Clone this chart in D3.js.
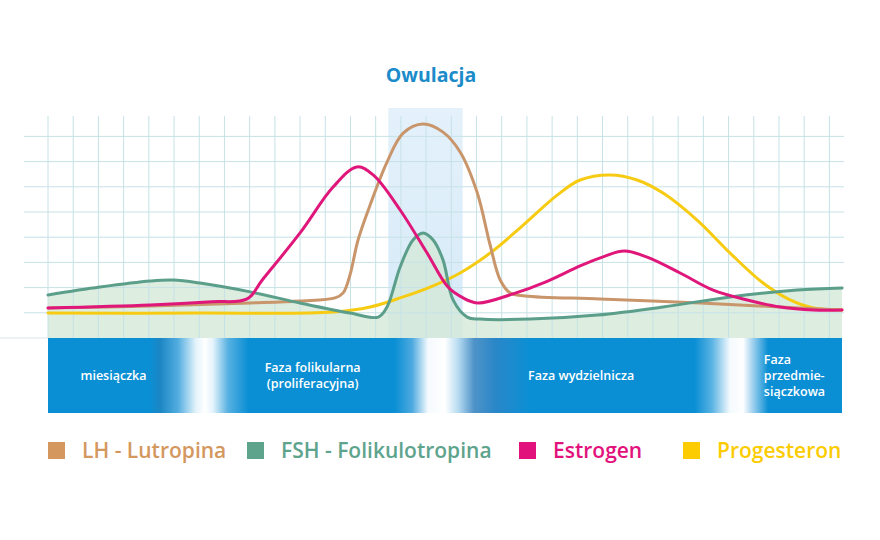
<!DOCTYPE html>
<html>
<head>
<meta charset="utf-8">
<script src="https://cdn.jsdelivr.net/npm/d3@7"></script>
<style>
  body { margin: 0; background: #fff; }
  svg { display: block; font-family: "Open Sans", sans-serif; }
</style>
</head>
<body>
<div id="myPlot"></div>
<script>
// Curves: x in grid columns, y in grid rows above the band
const lhX  = [0, 4.05, 8.02, 10, 11.39, 11.71, 11.98, 12.3, 12.78, 13.45, 14.09, 14.88, 15.67, 16.35, 17.02, 17.54, 17.94, 18.33, 18.93, 21.9, 25.87, 29.05, 31.5];
const lhY  = [1.19, 1.27, 1.39, 1.47, 1.59, 1.79, 2.5, 3.89, 5.28, 6.98, 8.13, 8.49, 8.17, 7.38, 5.79, 3.69, 2.3, 1.79, 1.67, 1.55, 1.39, 1.23, 1.11];
const fshX = [0, 2.06, 4.05, 4.96, 6.03, 8.02, 10, 11.98, 13.1, 13.45, 13.97, 14.48, 14.88, 15.28, 15.67, 16.07, 16.63, 17.14, 19.13, 21.79, 24.4, 27.06, 29.72, 31.5];
const fshY = [1.71, 2.02, 2.26, 2.3, 2.18, 1.83, 1.39, 0.99, 0.83, 1.23, 2.82, 3.89, 4.17, 3.89, 3.1, 1.51, 0.83, 0.75, 0.75, 0.91, 1.23, 1.63, 1.9, 1.98];
const estX = [0, 4.05, 6.5, 7.9, 8.5, 10, 11.31, 12.26, 12.9, 13.97, 15.04, 15.87, 16.47, 17.06, 18.45, 19.73, 21.11, 22.1, 22.86, 23.77, 25.08, 26.39, 27.74, 29.05, 30.36, 31.5];
const estY = [1.19, 1.31, 1.44, 1.55, 2.3, 4.17, 5.99, 6.79, 6.47, 5.08, 3.37, 2.02, 1.59, 1.39, 1.75, 2.22, 2.86, 3.25, 3.45, 3.21, 2.58, 1.9, 1.51, 1.23, 1.11, 1.11];
const proX = [0, 6.03, 11.31, 12.78, 13.97, 15.16, 16.35, 17.54, 18.73, 20.2, 21.11, 22.3, 23.37, 24.4, 25.75, 27.06, 28.37, 29.44, 30.36, 31.5];
const proY = [0.99, 0.99, 1.03, 1.23, 1.59, 2.02, 2.58, 3.37, 4.37, 5.67, 6.27, 6.47, 6.27, 5.75, 4.68, 3.37, 2.18, 1.51, 1.19, 1.11];

const seriesNames  = ["LH - Lutropina", "FSH - Folikulotropina", "Estrogen", "Progesteron"];
const seriesColors = ["#c9956b", "#5b9e8a", "#e0177b", "#f6cb12"];
const legendColors = ["#d4985f", "#5ea48d", "#e2127c", "#fccc00"];

// Phase band labels (centre column and lines)
const phaseCols  = [2.6, 10.5, 21.15, 28.4];
const phaseLines = [["miesiączka"], ["Faza folikularna", "(proliferacyjna)"], ["Faza wydzielnicza"], ["Faza", "przedmie-", "siączkowa"]];

const ovulationCols = [13.5, 16.45];
const title = "Owulacja";

const width = 880, height = 540;
const svg = d3.select("#myPlot").append("svg")
  .attr("width", width)
  .attr("height", height);

// Scales
const x = d3.scaleLinear().domain([0, 31.5]).range([48, 842]);
const y = d3.scaleLinear().domain([0, 9]).range([338, 338 - 9 * 25.2]);

// Ovulation highlight
const defs = svg.append("defs");
const hl = defs.append("linearGradient").attr("id", "hl")
  .attr("x1", 0).attr("x2", 0).attr("y1", 0).attr("y2", 1);
hl.append("stop").attr("offset", 0).attr("stop-color", "#e4f1fb");
hl.append("stop").attr("offset", 1).attr("stop-color", "#d6eaf8");

svg.append("rect")
  .attr("x", x(ovulationCols[0]))
  .attr("y", 108)
  .attr("width", x(ovulationCols[1]) - x(ovulationCols[0]))
  .attr("height", y(0) - 108)
  .attr("fill", "url(#hl)");

const curve = d3.curveCatmullRom.alpha(0.5);

// FSH area fill
const fshData = fshX.map((d, i) => ({ x: d, y: fshY[i] }));
svg.append("path")
  .datum(fshData)
  .attr("fill", "#d4e9d8")
  .attr("fill-opacity", 0.8)
  .attr("d", d3.area()
    .x(d => x(d.x))
    .y0(y(0))
    .y1(d => y(d.y))
    .curve(curve));

// Grid
const grid = svg.append("g").attr("stroke", "#c6e2e6").attr("stroke-width", 1);
grid.selectAll("line.v")
  .data(d3.range(0, 32))
  .enter().append("line")
  .attr("class", "v")
  .attr("x1", d => x(d)).attr("x2", d => x(d))
  .attr("y1", 116).attr("y2", y(0));
grid.selectAll("line.h")
  .data(d3.range(1, 9))
  .enter().append("line")
  .attr("class", "h")
  .attr("x1", 24).attr("x2", 844)
  .attr("y1", d => y(d)).attr("y2", d => y(d));

svg.append("line")
  .attr("x1", 0).attr("x2", x(0))
  .attr("y1", y(0)).attr("y2", y(0))
  .attr("stroke", "#dde4e7");

// Curves
const line = d3.line()
  .x(d => x(d.x))
  .y(d => y(d.y))
  .curve(curve);

const allSeries = [
  { xs: lhX, ys: lhY, c: 0 },
  { xs: fshX, ys: fshY, c: 1 },
  { xs: proX, ys: proY, c: 3 },
  { xs: estX, ys: estY, c: 2 }
];
// draw order: progesterone, LH, FSH, estrogen
[allSeries[2], allSeries[0], allSeries[1], allSeries[3]].forEach(s => {
  svg.append("path")
    .datum(s.xs.map((d, i) => ({ x: d, y: s.ys[i] })))
    .attr("fill", "none")
    .attr("stroke", seriesColors[s.c])
    .attr("stroke-width", 3)
    .attr("stroke-linecap", "round")
    .attr("stroke-linejoin", "round")
    .attr("d", line);
});

// Phase band
const bandTop = y(0), bandBottom = 413;
const bg = defs.append("linearGradient").attr("id", "band")
  .attr("gradientUnits", "userSpaceOnUse")
  .attr("x1", x(0)).attr("x2", x(31.5)).attr("y1", 0).attr("y2", 0);
const blue = "#0b8fd4";
[[48, blue], [150, blue], [160, "#1b86c4"], [178, "#52ade0"], [196, "#e4f3fb"], [205, "#ffffff"],
 [213, "#e4f3fb"], [228, "#58b1e2"], [248, blue],
 [395, blue], [412, "#4da9df"], [428, "#f4fafd"], [445, "#ffffff"], [458, "#b8dcf1"], [474, "#4f93c8"],
 [495, "#2a87c8"], [530, blue],
 [695, blue], [712, "#5ab3e3"], [730, "#f4fafd"], [743, "#ffffff"], [753, "#9ed0ee"], [768, blue], [842, blue]]
  .forEach(s => {
    bg.append("stop").attr("offset", (s[0] - 48) / 794).attr("stop-color", s[1]);
  });

svg.append("rect")
  .attr("x", x(0)).attr("y", bandTop)
  .attr("width", x(31.5) - x(0))
  .attr("height", bandBottom - bandTop)
  .attr("fill", "url(#band)");

phaseLines.forEach((lines, i) => {
  const last = i === phaseLines.length - 1;
  const lh = 16;
  const cy = (bandTop + bandBottom) / 2 + 4;
  const t = svg.append("text")
    .attr("fill", "#ffffff")
    .attr("font-size", 12.5)
    .attr("font-weight", 600)
    .attr("text-anchor", last ? "start" : "middle");
  lines.forEach((s, j) => {
    t.append("tspan")
      .attr("x", x(phaseCols[i]))
      .attr("y", cy + (j - (lines.length - 1) / 2) * lh)
      .text(s);
  });
});

// Title
svg.append("text")
  .attr("x", 431).attr("y", 82)
  .attr("text-anchor", "middle")
  .attr("font-size", 19.5)
  .attr("font-weight", 700)
  .attr("fill", "#1b8bca")
  .text(title);

// Legend
const legendX = [48, 247, 519, 683];
const legend = svg.append("g");
seriesNames.forEach((name, i) => {
  legend.append("rect")
    .attr("x", legendX[i]).attr("y", 442)
    .attr("width", 17).attr("height", 17)
    .attr("fill", legendColors[i]);
  legend.append("text")
    .attr("x", legendX[i] + 34).attr("y", 458)
    .attr("font-size", 21)
    .attr("font-weight", 600)
    .attr("fill", legendColors[i])
    .text(name);
});
</script>
</body>
</html>
